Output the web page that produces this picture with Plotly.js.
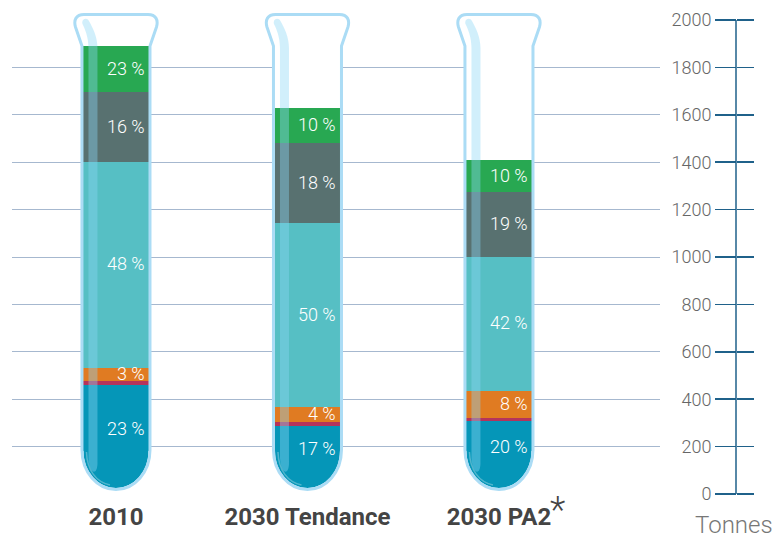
<!DOCTYPE html>
<html><head><meta charset="utf-8">
<script src="https://cdn.plot.ly/plotly-3.0.1.min.js"></script>
<style>html,body{margin:0;padding:0;background:#fff}</style>
</head><body><div id="chart" style="width:780px;height:540px"></div>
<script>
// ---- data ----
const categories = ['2010', '2030 Tendance', '2030 PA2'];
const blueVals   = [460, 287, 308];
const redVals    = [17, 17, 13];
const orangeVals = [55, 63, 114];
const tealVals   = [869, 776, 565];
const grayVals   = [295, 338, 274];
const greenVals  = [194, 148, 135];
const blueLabels   = ['23 %', '17 %', '20 %'];
const orangeLabels = ['3 %', '4 %', '8 %'];
const tealLabels   = ['48 %', '50 %', '42 %'];
const grayLabels   = ['16 %', '18 %', '19 %'];
const greenLabels  = ['23 %', '10 %', '10 %'];
const yTickVals = [0, 200, 400, 600, 800, 1000, 1200, 1400, 1600, 1800, 2000];
const gridVals  = [200, 400, 600, 800, 1000, 1200, 1400, 1600, 1800];
const unitLabel = 'Tonnes';

// ---- styling ----
const FONT = 'Roboto, "Open Sans", sans-serif';
const colors = {blue:'#0596b8', red:'#b5345b', orange:'#e07b22', teal:'#56bfc4', gray:'#587170', green:'#28a852'};
const BARW = 0.34;
const YR = [-25.32, 2042.19];
const XR = [-0.543, 2.841];
const PXX = 191.49;       // px per category unit
const PXY = 0.237;        // px per y unit
const Y0PX = 494;         // pixel row of value 0
const X = (i, dx) => (i + dx / PXX).toFixed(4);
const Y = (py) => ((Y0PX - py) / PXY).toFixed(2);
const P = (i, dx, py) => X(i, dx) + ',' + Y(py);
const K = 0.5523;

function outlinePath(i) {
  const a = 34, ys = 450, yb = 489.5, h = yb - ys;
  return 'M' + P(i,-a,ys) + ' L' + P(i,-a,46) + ' L' + P(i,-40.5,27) +
    ' C' + P(i,-42.5,20) + ' ' + P(i,-40,14.5) + ' ' + P(i,-32,14.5) +
    ' L' + P(i,32,14.5) +
    ' C' + P(i,40,14.5) + ' ' + P(i,42.5,20) + ' ' + P(i,40.5,27) +
    ' L' + P(i,a,46) + ' L' + P(i,a,ys) +
    ' C' + P(i,a,ys+K*h) + ' ' + P(i,K*a,yb) + ' ' + P(i,0,yb) +
    ' C' + P(i,-K*a,yb) + ' ' + P(i,-a,ys+K*h) + ' ' + P(i,-a,ys) + ' Z';
}
function maskPath(i) {
  const a = 32.5, ys = 451, yb = 488, h = yb - ys, w = 37;
  return 'M' + P(i,-w,ys) + ' L' + P(i,-w,510) + ' L' + P(i,w,510) + ' L' + P(i,w,ys) +
    ' L' + P(i,a,ys) +
    ' C' + P(i,a,ys+K*h) + ' ' + P(i,K*a,yb) + ' ' + P(i,0,yb) +
    ' C' + P(i,-K*a,yb) + ' ' + P(i,-a,ys+K*h) + ' ' + P(i,-a,ys) + ' Z';
}
function stripePath(i) {
  return 'M' + P(i,-27.5,458) + ' L' + P(i,-27.5,48) +
    ' C' + P(i,-27.5,37) + ' ' + P(i,-31,29) + ' ' + P(i,-33.5,24) +
    ' C' + P(i,-35,19) + ' ' + P(i,-29,17) + ' ' + P(i,-27,21) +
    ' C' + P(i,-23,28) + ' ' + P(i,-18.5,37) + ' ' + P(i,-18.5,48) +
    ' L' + P(i,-18.5,464) +
    ' C' + P(i,-19,476) + ' ' + P(i,-26.5,474) + ' ' + P(i,-27.5,458) + ' Z';
}
function glossPath(i) {
  return 'M' + P(i,-29.5,452) + ' C' + P(i,-29,470) + ' ' + P(i,-20,482) + ' ' + P(i,-6,485);
}

const series = [
  {name:'blue', vals:blueVals, col:colors.blue, labels:blueLabels},
  {name:'red', vals:redVals, col:colors.red, labels:null},
  {name:'orange', vals:orangeVals, col:colors.orange, labels:orangeLabels},
  {name:'teal', vals:tealVals, col:colors.teal, labels:tealLabels},
  {name:'gray', vals:grayVals, col:colors.gray, labels:grayLabels},
  {name:'green', vals:greenVals, col:colors.green, labels:greenLabels}
];

const traces = series.map(s => ({
  type:'bar', x:categories, y:s.vals, width:BARW, name:s.name,
  marker:{color:s.col, line:{width:0}}, hoverinfo:'skip', showlegend:false
}));
traces.push({type:'scatter', mode:'markers', x:[categories[0]], y:[0], yaxis:'y2',
  marker:{opacity:0}, hoverinfo:'skip', showlegend:false});
traces.push({type:'scatter', mode:'markers', x:[categories[0]], y:[0], yaxis:'y3',
  marker:{opacity:0}, hoverinfo:'skip', showlegend:false});

// percent labels
const annotations = [];
const cum = categories.map(() => 0);
series.forEach((s, si) => {
  s.vals.forEach((v, i) => {
    const base = cum[i];
    cum[i] += v;
    if (!s.labels) return;
    const lo = si === 0 ? 85 : base;
    annotations.push({x:i + BARW/2, y:(lo + cum[i]) / 2, xref:'x', yref:'y',
      text:s.labels[i], showarrow:false, xanchor:'right', yanchor:'middle', xshift:-2, yshift:1,
      font:{family:FONT, size:18, color:'#ffffff', weight:300}});
  });
});
const AXPOS = (736 - 12) / 758;
annotations.push({x:AXPOS, y:0, xref:'paper', yref:'paper', text:unitLabel, showarrow:false,
  xanchor:'center', yanchor:'middle', xshift:-2, yshift:-25,
  font:{family:FONT, size:24, color:'#777777', weight:300}});
annotations.push({x:2, y:0, xref:'x', yref:'paper', text:'*', showarrow:false,
  xanchor:'center', yanchor:'middle', xshift:59, yshift:-10,
  font:{family:FONT, size:36, color:'#444444', weight:300}});

const shapes = [];
categories.forEach((c, i) => {
  shapes.push({type:'path', xref:'x', yref:'y', path:outlinePath(i), fillcolor:'#ffffff',
    line:{width:0}, layer:'between'});
});
categories.forEach((c, i) => {
  shapes.push({type:'path', xref:'x', yref:'y', path:maskPath(i), fillcolor:'#ffffff',
    line:{width:0}, layer:'above'});
  shapes.push({type:'path', xref:'x', yref:'y', path:stripePath(i), fillcolor:'rgba(140,215,245,0.4)',
    line:{width:0}, layer:'above'});
  shapes.push({type:'path', xref:'x', yref:'y', path:glossPath(i),
    line:{width:1.5, color:'rgba(255,255,255,0.3)'}, layer:'above'});
  shapes.push({type:'path', xref:'x', yref:'y', path:outlinePath(i),
    line:{width:3, color:'#abdcf5'}, layer:'above'});
});
shapes.push({type:'line', xref:'paper', yref:'y', x0:AXPOS, x1:AXPOS, y0:0, y1:2000,
  line:{width:1.5, color:'#1f618a'}, layer:'above'});

const layout = {
  width:780, height:540,
  margin:{l:12, r:10, t:10, b:40},
  paper_bgcolor:'#ffffff', plot_bgcolor:'#ffffff',
  barmode:'stack', showlegend:false,
  font:{family:FONT},
  xaxis:{domain:[0, 648/758], range:XR, type:'category', showgrid:false, zeroline:false,
    showline:false, ticks:'', ticklen:0,
    tickfont:{family:FONT, size:24, color:'#444444', weight:700}, fixedrange:true},
  yaxis:{range:YR, tickvals:gridVals, showticklabels:false, showgrid:true,
    gridcolor:'#a6b8cf', gridwidth:1, zeroline:false, showline:false, ticks:'', fixedrange:true},
  yaxis2:{overlaying:'y', anchor:'free', position:AXPOS, side:'left', range:YR,
    tickvals:yTickVals, ticks:'outside', ticklen:21, tickwidth:1.5, tickcolor:'#1f618a',
    showgrid:false, zeroline:false, showline:false,
    tickfont:{family:FONT, size:18, color:'#666666', weight:300}, fixedrange:true},
  yaxis3:{overlaying:'y', anchor:'free', position:AXPOS, side:'right', range:YR,
    tickvals:yTickVals, ticks:'outside', ticklen:17, tickwidth:1.5, tickcolor:'#1f618a',
    showticklabels:false, showgrid:false, zeroline:false, showline:false, fixedrange:true},
  shapes:shapes,
  annotations:annotations
};

Plotly.newPlot('chart', traces, layout, {displayModeBar:false, staticPlot:true});
</script>
</body></html>
